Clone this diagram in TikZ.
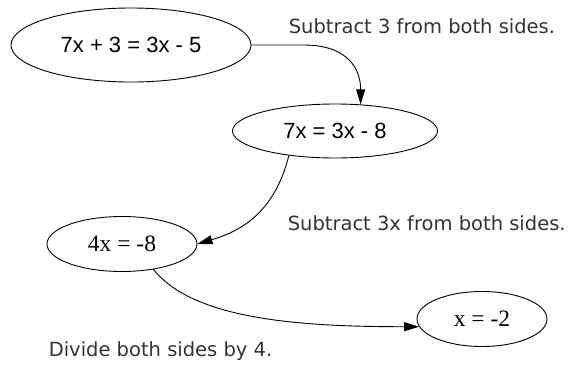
\documentclass[tikz,border=0pt]{standalone}
\usepackage{fontspec}
\setmainfont{Liberation Serif}
\newfontfamily\eqsans{Liberation Sans}
\newfontfamily\hintfont{DejaVu Sans}
\usetikzlibrary{arrows.meta, shapes.geometric}

\begin{document}
\begin{tikzpicture}[x=1pt, y=-1pt, line width=0.9pt, >={Triangle[length=15pt, width=9pt]},
    eqn/.style={draw, ellipse, inner sep=0pt, font=\fontsize{23.5}{26}\selectfont},
    sanseqn/.style={eqn, font=\eqsans\fontsize{22}{26}\selectfont},
    hint/.style={anchor=west, text=black!80, font=\hintfont\fontsize{19.5}{22}\selectfont}]
    \useasboundingbox (0,0) rectangle (571,365);

    % equations
    \node (e1) [sanseqn, minimum width=240pt, minimum height=74pt] at (131,45) {7x + 3 = 3x - 5};
    \node (e2) [sanseqn, minimum width=205pt, minimum height=54pt] at (335,131) {7x = 3x - 8};
    \node (e3) [eqn, minimum width=150pt, minimum height=55pt] at (122,244) {4x = -8};
    \node (e4) [eqn, minimum width=130pt, minimum height=55pt] at (482,319) {x = -2};

    % steps
    \node (h1) [hint] at (285,26) {Subtract 3 from both sides.};
    \node (h2) [hint] at (284,223) {Subtract 3x from both sides.};
    \node (h3) [hint] at (45,351) {Divide both sides by 4.};

    \draw[->] (e1.east) -- ++(52,0) .. controls +(45,0) and +(0,-35) .. (e2.46);
    \draw[->] (e2.208) .. controls +(-15,60) and +(40,-12) .. (e3.east);
    \draw[->] (e3.321) .. controls +(40,50) and +(-120,0) .. (e4.187);
\end{tikzpicture}
\end{document}
